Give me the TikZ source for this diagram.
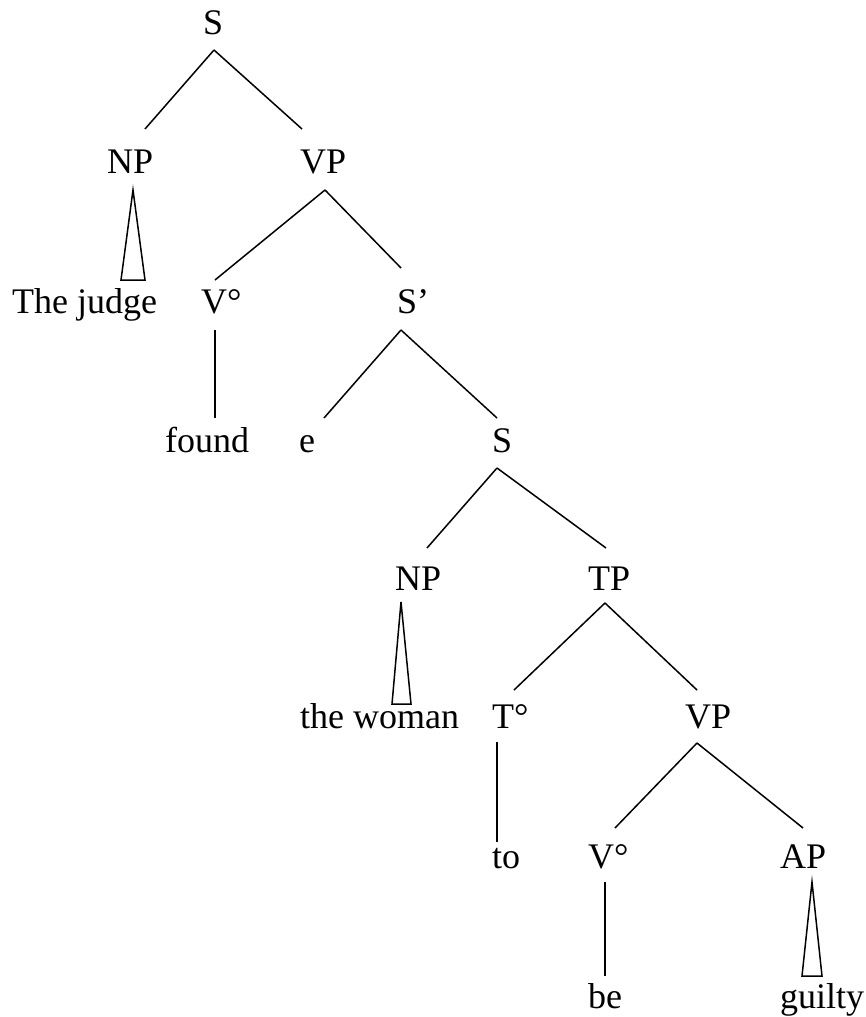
\documentclass[tikz,border=0pt]{standalone}
\usepackage{fontspec}
\setmainfont{Liberation Serif}
\begin{document}
\begin{tikzpicture}[x=1pt,y=-1pt,
  lbl/.style={anchor=base west,inner sep=0pt,font=\fontsize{36}{40}\selectfont},
  edge/.style={line width=1.5pt,line join=miter}]
\useasboundingbox (0,0) rectangle (865,1017);
% labels
\node[lbl] (s1)    at (203,34)   {S};
\node[lbl] (np1)   at (107,173)  {NP};
\node[lbl] (vp1)   at (300,173)  {VP};
\node[lbl] (judge) at (12,313)   {The judge};
\node[lbl] (v1)    at (201,313)  {V°};
\node[lbl] (sbar)  at (397,313)  {S’};
\node[lbl] (found) at (165,452)  {found};
\node[lbl] (e)     at (299,452)  {e};
\node[lbl] (s2)    at (492,452)  {S};
\node[lbl] (np2)   at (395,590)  {NP};
\node[lbl] (tp)    at (588,590)  {TP};
\node[lbl] (woman) at (300,728)  {the woman};
\node[lbl] (t)     at (492,728)  {T°};
\node[lbl] (vp2)   at (685,728)  {VP};
\node[lbl] (to)    at (492,868)  {to};
\node[lbl] (v2)    at (588,868)  {V°};
\node[lbl] (ap)    at (780,868)  {AP};
\node[lbl] (be)    at (588,1008) {be};
\node[lbl] (guilty) at (780,1008) {guilty};
% edges
\draw[edge] ([xshift=11pt,yshift=-16pt]s1.base west) -- ([xshift=38pt,yshift=44pt]np1.base west);
\draw[edge] ([xshift=11pt,yshift=-16pt]s1.base west) -- ([xshift=2pt,yshift=44pt]vp1.base west);
\draw[edge] ([xshift=26pt,yshift=-17pt]np1.base west) -- ([xshift=109pt,yshift=33pt]judge.base west) -- ([xshift=133pt,yshift=33pt]judge.base west) -- cycle;
\draw[edge] ([xshift=25pt,yshift=-17pt]vp1.base west) -- ([xshift=14pt,yshift=33pt]v1.base west);
\draw[edge] ([xshift=25pt,yshift=-17pt]vp1.base west) -- ([xshift=4pt,yshift=45pt]sbar.base west);
\draw[edge] ([xshift=14pt,yshift=-17pt]v1.base west) -- ([xshift=50pt,yshift=34pt]found.base west);
\draw[edge] ([xshift=4pt,yshift=-17pt]sbar.base west) -- ([xshift=25pt,yshift=34pt]e.base west);
\draw[edge] ([xshift=4pt,yshift=-17pt]sbar.base west) -- ([xshift=5pt,yshift=34pt]s2.base west);
\draw[edge] ([xshift=5pt,yshift=-16pt]s2.base west) -- ([xshift=32pt,yshift=42pt]np2.base west);
\draw[edge] ([xshift=5pt,yshift=-16pt]s2.base west) -- ([xshift=18pt,yshift=42pt]tp.base west);
\draw[edge] ([xshift=6pt,yshift=-12pt]np2.base west) -- ([xshift=92pt,yshift=24pt]woman.base west) -- ([xshift=111pt,yshift=24pt]woman.base west) -- cycle;
\draw[edge] ([xshift=17pt,yshift=-13pt]tp.base west) -- ([xshift=22pt,yshift=38pt]t.base west);
\draw[edge] ([xshift=17pt,yshift=-13pt]tp.base west) -- ([xshift=12pt,yshift=38pt]vp2.base west);
\draw[edge] ([xshift=5pt,yshift=-14pt]t.base west) -- ([xshift=5pt,yshift=26pt]to.base west);
\draw[edge] ([xshift=12pt,yshift=-15pt]vp2.base west) -- ([xshift=27pt,yshift=40pt]v2.base west);
\draw[edge] ([xshift=12pt,yshift=-15pt]vp2.base west) -- ([xshift=23pt,yshift=40pt]ap.base west);
\draw[edge] ([xshift=17pt,yshift=-14pt]v2.base west) -- ([xshift=17pt,yshift=32pt]be.base west);
\draw[edge] ([xshift=32pt,yshift=-14pt]ap.base west) -- ([xshift=22pt,yshift=32pt]guilty.base west) -- ([xshift=42pt,yshift=32pt]guilty.base west) -- cycle;
\end{tikzpicture}
\end{document}
